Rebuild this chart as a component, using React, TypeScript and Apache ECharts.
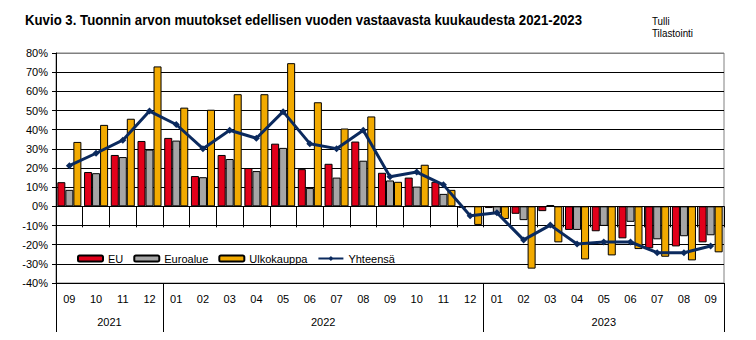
import React, { useEffect, useRef } from "react";
import * as echarts from "echarts";

const months = ["09","10","11","12","01","02","03","04","05","06","07","08","09","10","11","12","01","02","03","04","05","06","07","08","09"];
const years = ["2021", "2022", "2023"];
const yearLengths = [4, 12, 9];

const eu = [12.6, 17.9, 26.8, 34.1, 35.7, 15.8, 26.8, 20.0, 32.7, 19.4, 22.2, 33.8, 17.5, 15.0, 12.8, -0.8, -0.9, -3.9, -2.5, -12.3, -13.0, -16.7, -21.9, -20.9, -18.8];
const euroalue = [8.6, 17.3, 25.7, 29.6, 34.3, 15.2, 24.7, 18.4, 30.5, 9.6, 15.0, 23.8, 13.5, 10.3, 6.5, -0.3, -3.7, -7.2, 0.7, -12.3, -10.2, -8.1, -17.2, -15.6, -15.1];
const ulkokauppa = [33.6, 42.5, 45.7, 73.0, 51.5, 50.4, 58.5, 58.5, 74.7, 54.3, 40.6, 46.9, 12.8, 21.7, 8.6, -9.7, -6.6, -32.5, -18.8, -27.7, -25.6, -22.3, -26.3, -28.2, -24.0];
const yhteensa = [21.2, 27.7, 34.5, 49.7, 42.7, 30.1, 39.7, 35.5, 49.4, 32.7, 30.1, 39.7, 15.4, 17.9, 11.2, -4.9, -3.3, -17.5, -9.8, -19.6, -18.6, -18.6, -24.2, -24.2, -20.7];

const TITLE = "Kuvio 3. Tuonnin arvon muutokset edellisen vuoden vastaavasta kuukaudesta 2021-2023";
const FONT = '"Liberation Sans", Arial, sans-serif';

function measure(text: string, font: string): number {
  const c = document.createElement("canvas").getContext("2d");
  if (!c) return text.length * 7;
  c.font = font;
  return c.measureText(text).width;
}

export default function App() {
  const ref = useRef<HTMLDivElement>(null);
  useEffect(() => {
    if (!ref.current) return;
    const chart = echarts.init(ref.current, undefined, { renderer: "svg" });

    const bounds: number[] = [0];
    yearLengths.forEach((n) => bounds.push(bounds[bounds.length - 1] + n));
    const centers = yearLengths.map((n, i) => bounds[i] + n / 2);

    const titleFont = `bold 14px ${FONT}`;
    const titleScale = 557 / measure(TITLE, titleFont);
    const tilScale = 41 / measure("Tilastointi", `11px ${FONT}`);

    const splitColors: string[] = [];
    for (let v = -40; v <= 80; v += 10) splitColors.push(v === 80 ? "#808080" : "#000000");

    const barBase = {
      type: "bar" as const,
      barGap: "0%",
      barCategoryGap: "10%",
      xAxisIndex: 0,
      yAxisIndex: 0,
    };

    chart.setOption({
      animation: false,
      textStyle: { fontFamily: FONT },
      grid: {
        left: 56,
        right: 32,
        top: 53,
        bottom: 57,
        show: true,
        borderColor: "#808080",
        borderWidth: 1,
        backgroundColor: "transparent",
      },
      graphic: [
        {
          type: "text",
          x: 25,
          y: 20,
          scaleX: titleScale,
          style: { text: TITLE, font: titleFont, fill: "#000", verticalAlign: "middle" },
        },
        {
          type: "text",
          x: 652,
          y: 21,
          scaleX: tilScale,
          style: { text: "Tulli", font: `11px ${FONT}`, fill: "#000", verticalAlign: "middle" },
        },
        {
          type: "text",
          x: 652,
          y: 33,
          scaleX: tilScale,
          style: { text: "Tilastointi", font: `11px ${FONT}`, fill: "#000", verticalAlign: "middle" },
        },
      ],
      legend: {
        left: 72,
        top: 248,
        itemWidth: 25,
        itemHeight: 6,
        itemGap: 10,
        textStyle: { fontSize: 11, color: "#000", fontFamily: FONT },
        data: ["EU", "Euroalue", "Ulkokauppa", "Yhteensä"],
      },
      xAxis: [
        {
          type: "category",
          data: months,
          position: "bottom",
          boundaryGap: true,
          axisLine: { show: true, lineStyle: { color: "#000", width: 1 } },
          axisTick: { show: true, interval: 0, length: 21, lineStyle: { color: "#000" } },
          axisLabel: { interval: 0, margin: 10, fontSize: 11, color: "#000", fontFamily: FONT },
          splitLine: { show: false },
        },
        {
          type: "value",
          min: 0,
          max: months.length,
          position: "bottom",
          axisLine: { show: false },
          axisTick: {
            show: true,
            length: 49,
            customValues: bounds,
            lineStyle: { color: "#000" },
          },
          axisLabel: {
            show: true,
            margin: 33,
            fontSize: 11,
            color: "#000",
            fontFamily: FONT,
            customValues: centers,
            formatter: (v: number) => {
              const i = centers.findIndex((c) => Math.abs(c - v) < 1e-6);
              return i >= 0 ? years[i] : "";
            },
          },
          splitLine: { show: false },
        },
      ],
      yAxis: {
        type: "value",
        min: -40,
        max: 80,
        interval: 10,
        axisLine: { show: true, onZero: false, lineStyle: { color: "#000" } },
        axisTick: { show: true, length: 4, lineStyle: { color: "#000" } },
        axisLabel: {
          margin: 8,
          fontSize: 11,
          color: "#000",
          fontFamily: FONT,
          formatter: (v: number) => `${v}%`,
        },
        splitLine: { show: true, lineStyle: { color: splitColors, width: 1 } },
      },
      series: [
        {
          ...barBase,
          name: "EU",
          data: eu,
          itemStyle: { color: "#E2001A", borderColor: "#000", borderWidth: 1 },
        },
        {
          ...barBase,
          name: "Euroalue",
          data: euroalue,
          itemStyle: { color: "#A6A6A6", borderColor: "#000", borderWidth: 1 },
        },
        {
          ...barBase,
          name: "Ulkokauppa",
          data: ulkokauppa,
          itemStyle: { color: "#F2AA00", borderColor: "#000", borderWidth: 1 },
        },
        {
          type: "line",
          name: "Yhteensä",
          data: yhteensa,
          xAxisIndex: 0,
          yAxisIndex: 0,
          z: 5,
          symbol: "diamond",
          symbolSize: 7,
          showAllSymbol: true,
          lineStyle: { color: "#0B2A5E", width: 3 },
          itemStyle: { color: "#0B2A5E" },
        },
      ],
    });
    return () => chart.dispose();
  }, []);

  return <div ref={ref} style={{ width: 756, height: 340, margin: -8 }} />;
}
